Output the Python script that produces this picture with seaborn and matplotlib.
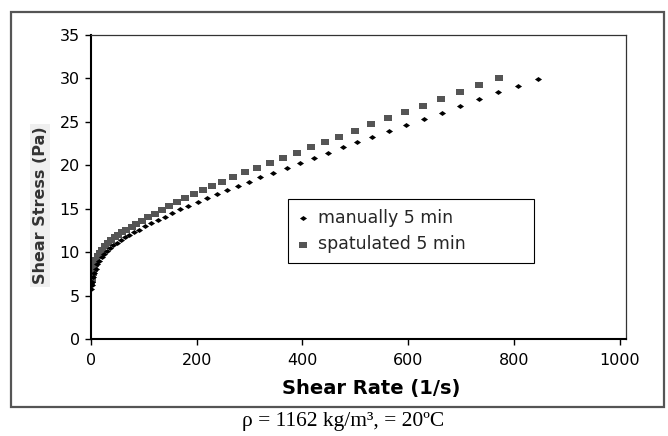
import numpy as np
import pandas as pd
import matplotlib
matplotlib.use("Agg")
import matplotlib.pyplot as plt
from matplotlib.patches import Rectangle
import seaborn as sns

# values
manual_rate = [0.5, 1, 2, 4, 6, 9, 12, 16, 20, 25, 30, 36, 42, 49, 56, 64, 72, 81, 91,
               102, 113, 126, 140, 153, 168, 184, 202, 220, 239, 258, 279, 299, 320,
               345, 370, 396, 422, 448, 476, 503, 532, 564, 596, 630, 664, 698, 734,
               770, 808, 845]
manual_stress = [5.8, 6.2, 6.6, 7.1, 7.6, 8.1, 8.6, 9.0, 9.4, 9.8, 10.1, 10.5, 10.8, 11.1,
                 11.4, 11.7, 12.0, 12.3, 12.6, 13.0, 13.3, 13.7, 14.1, 14.5, 14.97,
                 15.35, 15.8, 16.25, 16.7, 17.2, 17.6, 18.1, 18.6, 19.1, 19.65, 20.3,
                 20.8, 21.45, 22.1, 22.7, 23.3, 23.9, 24.6, 25.3, 26.0, 26.8, 27.6,
                 28.4, 29.1, 29.9]

spat_rate = [0.5, 1, 2, 3, 5, 7, 10, 13, 17, 21, 26, 32, 38, 45, 52, 59, 67, 77, 86, 97,
             108, 121, 135, 148, 163, 178, 194, 211, 229, 248, 269, 291, 314, 338, 364,
             390, 416, 443, 470, 499, 530, 562, 594, 628, 662, 698, 734, 772]
spat_stress = [6.5, 6.8, 7.2, 7.6, 8.1, 8.6, 9.1, 9.5, 9.9, 10.3, 10.7, 11.1, 11.4, 11.7,
               12.0, 12.3, 12.6, 12.9, 13.2, 13.6, 14.0, 14.4, 14.8, 15.3, 15.77, 16.2,
               16.7, 17.2, 17.6, 18.1, 18.6, 19.2, 19.7, 20.3, 20.8, 21.45, 22.1, 22.7,
               23.3, 24.0, 24.7, 25.4, 26.1, 26.8, 27.6, 28.4, 29.2, 30.0]

labels = ["manually 5 min", "spatulated 5 min"]
x_ticks = [0, 200, 400, 600, 800, 1000]
y_ticks = [0, 5, 10, 15, 20, 25, 30, 35]
caption = "ρ = 1162 kg/m³, = 20ºC"

sns.set_theme(style="white", context="notebook")
plt.rcParams["font.family"] = ["DejaVu Sans"]

fig = plt.figure(figsize=(6.68, 4.36), dpi=100)
ax = fig.add_axes([91 / 668, 97 / 436, 535 / 668, 304 / 436])

# wide-ish markers, the source image is stretched sideways
diamond = [(-1, 0), (0, 0.7), (1, 0), (0, -0.7), (-1, 0)]
square = [(-1, -0.8), (1, -0.8), (1, 0.8), (-1, 0.8), (-1, -0.8)]

sns.scatterplot(x=manual_rate, y=manual_stress, marker=diamond, s=26, color="black",
                linewidth=0, label=labels[0], ax=ax, zorder=3)
sns.scatterplot(x=spat_rate, y=spat_stress, marker=square, s=30, color="#555555",
                linewidth=0, label=labels[1], ax=ax, zorder=2)

ax.set_xlim(0, 1012)
ax.set_ylim(0, 35)
ax.set_xticks(x_ticks)
ax.set_yticks(y_ticks)
ax.tick_params(axis="both", which="both", direction="out", length=4, width=1,
               color="black", labelsize=11.5, labelcolor="black", left=True, bottom=True)
ax.tick_params(axis="x", pad=6)
ax.tick_params(axis="y", pad=4)

for side in ["left", "bottom"]:
    ax.spines[side].set_color("black")
    ax.spines[side].set_linewidth(1.5)
for side in ["top", "right"]:
    ax.spines[side].set_color("#333333")
    ax.spines[side].set_linewidth(0.9)

ax.set_xlabel("Shear Rate (1/s)", fontsize=14, fontweight="bold", color="black")
ax.xaxis.set_label_coords(0.523, -0.164)
ax.xaxis.label.set_va("center")

ax.set_ylabel("Shear Stress (Pa)", fontsize=11.5, fontweight="bold", color="#333333",
              bbox=dict(facecolor="#efefef", edgecolor="none", pad=2))
ax.yaxis.set_label_coords(-0.095, 0.44)
ax.yaxis.label.set_va("center")

leg = ax.legend(loc="upper left", bbox_to_anchor=(0.368, 0.2566, 0.46, 0.204),
                mode="expand", fontsize=12.5, frameon=True, fancybox=False,
                framealpha=1, edgecolor="black", handlelength=0.6, handletextpad=0.6,
                borderpad=0.55, labelspacing=0.5, borderaxespad=0, markerscale=1.0)
leg.get_frame().set_linewidth(0.8)

# outer chart border
fig.patches.append(Rectangle((11 / 668, 29 / 436), 653 / 668, 395 / 436,
                             transform=fig.transFigure, fill=False,
                             edgecolor="#555555", linewidth=1.6))

fig.text(0.514, 0.034, caption, ha="center", va="center", fontsize=15.5,
         family="Liberation Serif", color="black")

fig.savefig("out.png", dpi=100)
